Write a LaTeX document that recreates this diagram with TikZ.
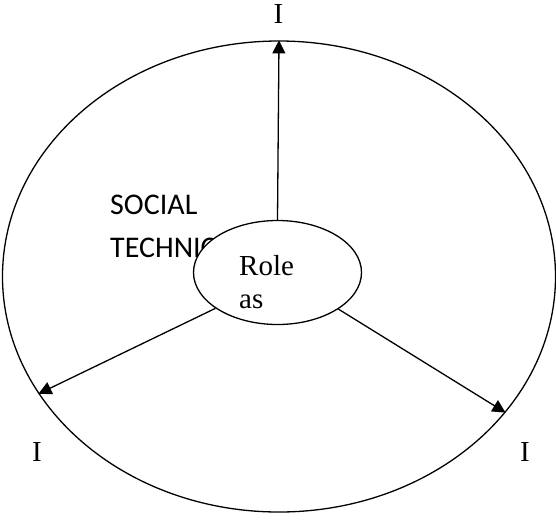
\documentclass[tikz,border=0pt]{standalone}
\usepackage{fontspec}
\setmainfont{Liberation Serif}
\newfontfamily\calibrix{Carlito}
\usepackage{tikz}
\usetikzlibrary{arrows.meta,shapes.geometric}
\tikzset{
  ar/.style={-{Triangle[length=13pt,width=13pt]},line width=1.3pt},
  lbl/.style={font=\fontsize{29}{32}\selectfont,inner sep=0pt},
  sidetxt/.style={font=\calibrix\fontsize{30}{32}\selectfont,inner sep=0pt,anchor=base west}
}
\begin{document}
\begin{tikzpicture}[x=1pt,y=-1pt]
\useasboundingbox (0,0) rectangle (556,520);
\node[draw,ellipse,line width=1.3pt,minimum width=553pt,minimum height=471pt,inner sep=0pt] (outer) at (279,276.5) {};
\node[sidetxt] (soc) at (110,214) {SOCIAL};
\node[sidetxt] (tech) at (110,257) {TECHNICAL};
\node[draw,ellipse,fill=white,line width=1.3pt,minimum width=168pt,minimum height=104pt,inner sep=0pt] (role) at (277.5,272.5) {};
\node[lbl,anchor=base west] (roletxt) at (239,275) {Role};
\node[lbl,anchor=base west] (astxt) at (239,308) {as};
\node[lbl,anchor=base] (itop) at (278.5,23) {I};
\node[lbl,anchor=base] (ileft) at (37,461) {I};
\node[lbl,anchor=base] (iright) at (525,461) {I};
\draw[ar] (role.north) -- (outer.north);
\draw[ar] (role.210) -- (outer.206);
\draw[ar] (role.-31) -- (outer.-31.5);
\end{tikzpicture}
\end{document}
